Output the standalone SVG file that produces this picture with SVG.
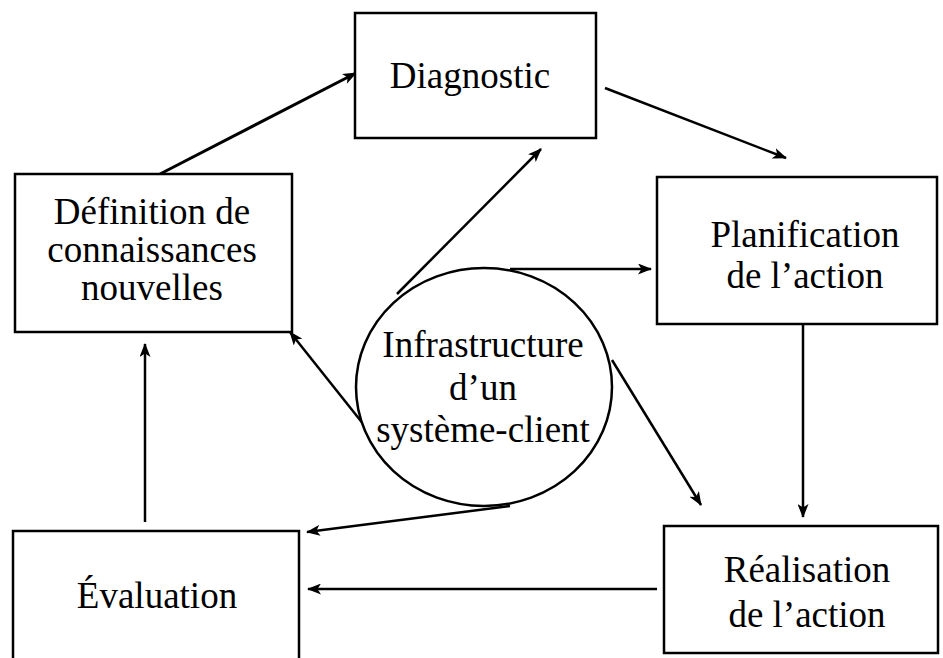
<svg xmlns="http://www.w3.org/2000/svg" width="943" height="658" viewBox="0 0 943 658">
<style>
.box{fill:#fff;stroke:#000;stroke-width:2.5}
.t{font-family:"Liberation Serif","Times New Roman",serif;font-size:37px;fill:#000;text-anchor:middle}
.c{fill:none;stroke:#000;stroke-width:2.5}
</style>
<defs>
<marker id="ah" viewBox="0 0 14 11" refX="13" refY="5.5" markerWidth="14" markerHeight="11" markerUnits="userSpaceOnUse" orient="auto">
<path d="M0,0 L14,5.5 L0,11 L3.5,5.5 Z" fill="#000"/>
</marker>
</defs>
<rect width="943" height="658" fill="#fff"/>
<g id="connectors">
<line class="c" x1="160" y1="174" x2="356" y2="73" marker-end="url(#ah)" style="stroke-width:3"/>
<line class="c" x1="605" y1="88" x2="786" y2="158" marker-end="url(#ah)"/>
<line class="c" x1="803" y1="324" x2="803" y2="517" marker-end="url(#ah)"/>
<line class="c" x1="657" y1="589" x2="308" y2="589" marker-end="url(#ah)"/>
<line class="c" x1="145" y1="522" x2="145" y2="344" marker-end="url(#ah)"/>
<line class="c" x1="397" y1="294" x2="541" y2="149" marker-end="url(#ah)"/>
<line class="c" x1="510" y1="269" x2="651" y2="269" marker-end="url(#ah)"/>
<line class="c" x1="368" y1="430" x2="290" y2="332" marker-end="url(#ah)"/>
<line class="c" x1="612" y1="360" x2="701" y2="505" marker-end="url(#ah)"/>
<line class="c" x1="510" y1="506" x2="307" y2="532" marker-end="url(#ah)"/>
</g>
<g id="diagnostic">
<rect class="box" x="355" y="13" width="241" height="125"/>
<text class="t" x="470" y="88">Diagnostic</text>
</g>
<g id="definition">
<rect class="box" x="15" y="174" width="277" height="158"/>
<text class="t" x="152" y="224">Définition de</text>
<text class="t" x="152" y="262">connaissances</text>
<text class="t" x="152" y="300">nouvelles</text>
</g>
<g id="planification">
<rect class="box" x="657" y="177" width="280" height="147"/>
<text class="t" x="805" y="247">Planification</text>
<text class="t" x="805" y="288">de l’action</text>
</g>
<g id="realisation">
<rect class="box" x="664" y="526" width="274" height="127"/>
<text class="t" x="807" y="582">Réalisation</text>
<text class="t" x="807" y="627">de l’action</text>
</g>
<g id="evaluation">
<path class="box" d="M13,662 L13,531 L299,531 L299,662"/>
<text class="t" x="157" y="608">Évaluation</text>
</g>
<g id="infrastructure">
<ellipse class="box" cx="484" cy="387" rx="128" ry="119"/>
<text class="t" x="483" y="357">Infrastructure</text>
<text class="t" x="483" y="400">d’un</text>
<text class="t" x="483" y="442">système-client</text>
</g>
</svg>
